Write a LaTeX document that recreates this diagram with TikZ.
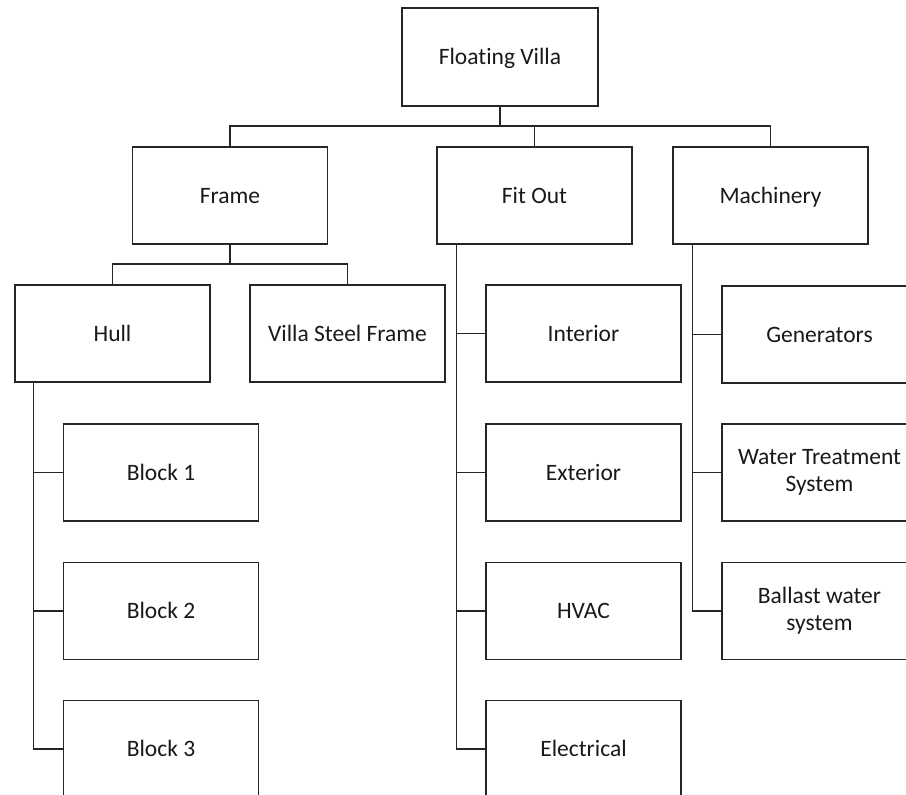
\documentclass[tikz,border=0pt]{standalone}
\usepackage{fontspec}
\setmainfont[Ligatures=NoCommon]{Carlito}
\begin{document}
\begin{tikzpicture}[x=1pt,y=1pt,
  box/.style={draw=black!85, line width=1.4pt, fill=white,
    minimum width=195pt, minimum height=97pt, inner sep=2pt,
    align=center, font=\fontsize{23.5}{27}\selectfont, text=black!90},
  one/.style={box, text height=20pt, text depth=5pt},
  link/.style={draw=black!85, line width=1.4pt}]
\useasboundingbox (0,0) rectangle (906,-795);
\clip (0,0) rectangle (906,-795);

% top level
\node[one, minimum width=196pt, minimum height=98pt] (villa) at (500,-57) {Floating Villa};

% second level
\node[one] (frame)  at (230,-195.5)   {Frame};
\node[one] (fitout) at (534.5,-195.5) {Fit Out};
\node[one] (mach)   at (770.5,-195.5) {Machinery};

% frame branch
\node[one] (hull) at (112.5,-333.5) {Hull};
\node[one] (vsf)  at (347.5,-333.5) {Villa Steel Frame};
\node[one] (block1) at (161,-472.5) {Block 1};
\node[one] (block2) at (161,-611)   {Block 2};
\node[one] (block3) at (161,-749)   {Block 3};

% fit out branch
\node[one] (interior)   at (583.5,-333.5) {Interior};
\node[one] (exterior)   at (583.5,-472.5) {Exterior};
\node[one] (hvac)       at (583.5,-611)   {HVAC};
\node[one] (electrical) at (583.5,-749)   {Electrical};

% machinery branch
\node[one] (gen)     at (819.5,-334.5) {Generators};
\node[box] (wts)     at (819.5,-472.5) {Water Treatment\\System};
\node[box] (ballast) at (819.5,-611)   {Ballast water\\system};

% top bus
\coordinate (topbus) at (500,-126);
\draw[link] (villa.south) -- (topbus);
\draw[link] (frame.north) |- (topbus) -| (mach.north);
\draw[link] (fitout.north) -- (fitout.north |- topbus);

% frame bus
\coordinate (fbus) at (230,-264);
\draw[link] (frame.south) -- (fbus);
\draw[link] (hull.north) |- (fbus) -| (vsf.north);

% hull spine
\coordinate (hspine) at ([xshift=19pt]hull.south west);
\draw[link] (hspine) |- (block3.west);
\draw[link] (hspine |- block1.west) -- (block1.west);
\draw[link] (hspine |- block2.west) -- (block2.west);

% fit out spine
\coordinate (fspine) at ([xshift=20pt]fitout.south west);
\draw[link] (fspine) |- (electrical.west);
\draw[link] (fspine |- interior.west) -- (interior.west);
\draw[link] (fspine |- exterior.west) -- (exterior.west);
\draw[link] (fspine |- hvac.west) -- (hvac.west);

% machinery spine
\coordinate (mspine) at ([xshift=20pt]mach.south west);
\draw[link] (mspine) |- (ballast.west);
\draw[link] (mspine |- gen.west) -- (gen.west);
\draw[link] (mspine |- wts.west) -- (wts.west);
\end{tikzpicture}
\end{document}
